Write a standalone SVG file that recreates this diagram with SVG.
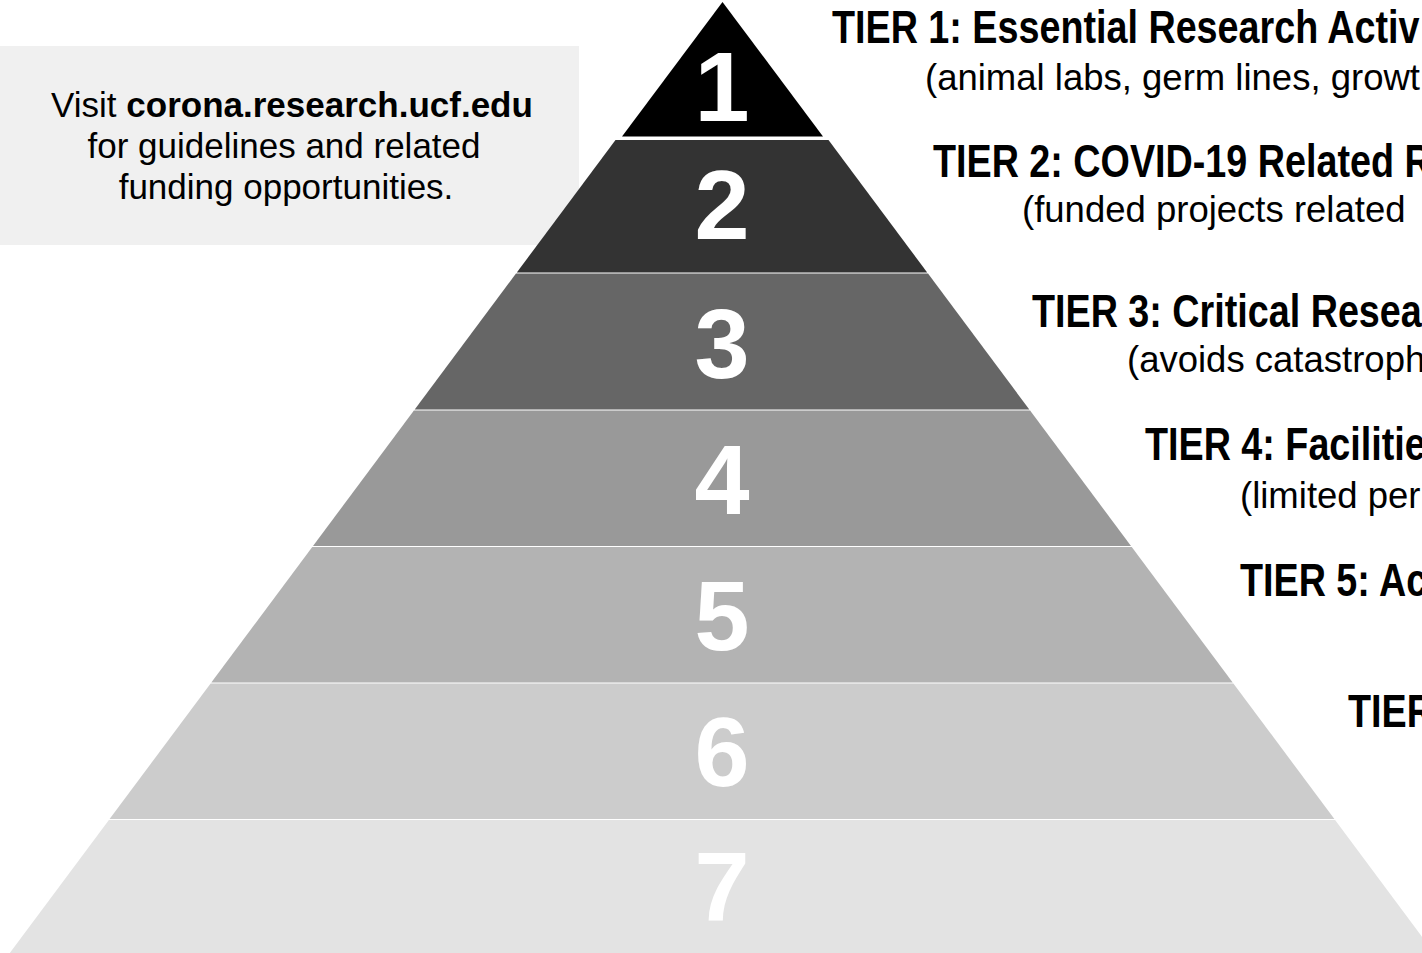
<svg xmlns="http://www.w3.org/2000/svg" width="1422" height="953" viewBox="0 0 1422 953">
<style>
.num{font-family:"Liberation Sans",Arial,sans-serif;font-weight:bold;font-size:99px;fill:#fff;text-anchor:middle}
.title{font-family:"Liberation Sans",Arial,sans-serif;font-weight:bold;font-size:46px;fill:#000}
.sub{font-family:"Liberation Sans",Arial,sans-serif;font-size:36.5px;fill:#000}
.box{font-family:"Liberation Sans",Arial,sans-serif;font-size:35px;fill:#000;text-anchor:middle}
</style>
<rect width="1422" height="953" fill="#fff"/>
<g id="info-box">
<rect x="0" y="46" width="579" height="199" fill="#f0f0f0"/>
<text class="box" x="292" y="117">Visit <tspan font-weight="bold">corona.research.ucf.edu</tspan></text>
<text class="box" x="284" y="158">for guidelines and related</text>
<text class="box" x="286" y="199">funding opportunities.</text>
</g>
<g id="tier7">
<polygon points="108.9,820 1335.1,820 1434.2,953 9.8,953" fill="#e3e3e3"/>
<text class="num" x="722" y="921">7</text>
</g>
<g id="tier6">
<polygon points="210.6,683.5 1233.4,683.5 1334.4,819 109.6,819" fill="#cccccc"/>
<text class="num" x="722" y="786">6</text>
<text class="title" transform="translate(1348,727) scale(0.82,1)">TIER</text>
</g>
<g id="tier5">
<polygon points="312.25,547 1131.75,547 1232.7,682.5 211.3,682.5" fill="#b3b3b3"/>
<text class="num" x="722" y="650">5</text>
<text class="title" transform="translate(1240,596) scale(0.82,1)">TIER 5: Ac</text>
</g>
<g id="tier4">
<polygon points="413.9,410.5 1030.1,410.5 1131,546 313,546" fill="#999999"/>
<text class="num" x="722" y="514">4</text>
<text class="title" transform="translate(1145,460) scale(0.82,1)">TIER 4: Facilitie</text>
<text class="sub" x="1240" y="508">(limited per</text>
</g>
<g id="tier3">
<polygon points="516,273.5 928,273.5 1029.3,409.5 414.7,409.5" fill="#666666"/>
<text class="num" x="722" y="378">3</text>
<text class="title" transform="translate(1032,327) scale(0.82,1)">TIER 3: Critical Resea</text>
<text class="sub" x="1127" y="372">(avoids catastroph</text>
</g>
<g id="tier2">
<polygon points="615.5,140 828.5,140 927.2,272.5 516.8,272.5" fill="#333333"/>
<text class="num" x="722" y="239">2</text>
<text class="title" transform="translate(933,177) scale(0.82,1)">TIER 2: COVID-19 Related R</text>
<text class="sub" x="1022" y="222">(funded projects related</text>
</g>
<g id="tier1">
<polygon points="722.5,2 823,136.5 622,136.5" fill="#000000"/>
<text class="num" x="722" y="121">1</text>
<text class="title" transform="translate(832,43) scale(0.82,1)">TIER 1: Essential Research Activ</text>
<text class="sub" x="925" y="90">(animal labs, germ lines, growt</text>
</g>
<g id="connectors"></g>
</svg>
